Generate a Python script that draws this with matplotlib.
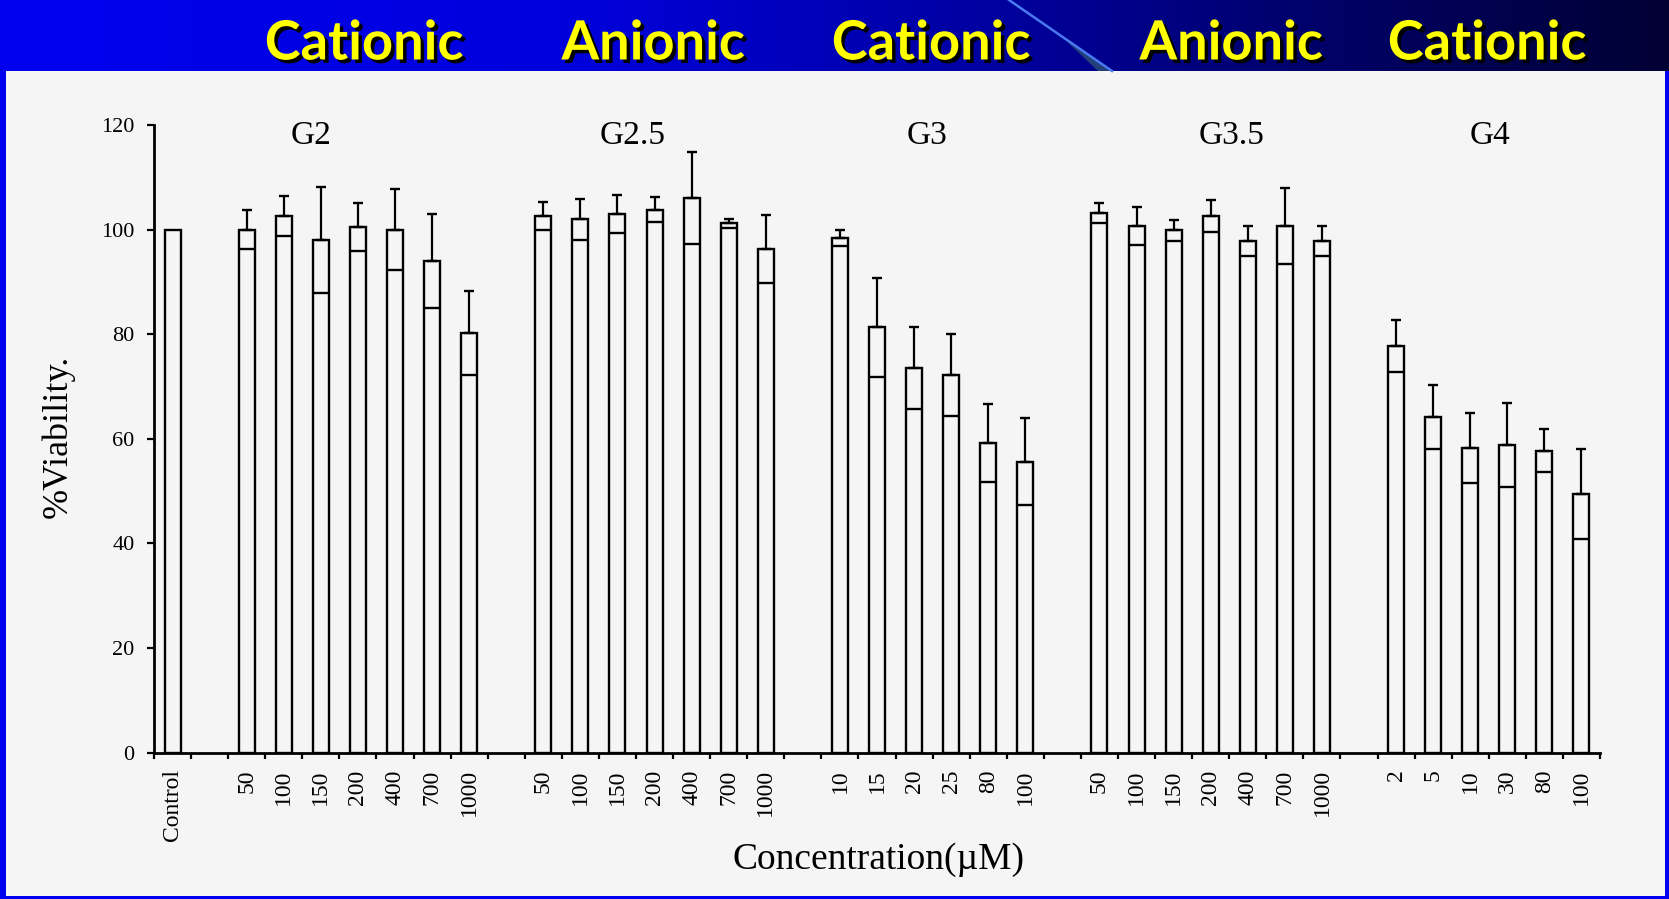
import numpy as np
import matplotlib.pyplot as plt
import matplotlib.patheffects as pe
from matplotlib.patches import Rectangle, Polygon

# cell viability (% of control): mean and SD for each dendrimer generation
control_mean = 100.0

g2_conc = ['50', '100', '150', '200', '400', '700', '1000']
g2_mean = [100.0, 102.6, 98.0, 100.5, 100.0, 94.0, 80.2]
g2_err = [3.8, 3.8, 10.2, 4.5, 7.8, 9.0, 8.0]

g25_conc = ['50', '100', '150', '200', '400', '700', '1000']
g25_mean = [102.6, 102.0, 103.0, 103.8, 106.0, 101.2, 96.2]
g25_err = [2.7, 3.9, 3.7, 2.4, 8.8, 0.8, 6.5]

g3_conc = ['10', '15', '20', '25', '80', '100']
g3_mean = [98.4, 81.3, 73.5, 72.2, 59.2, 55.6]
g3_err = [1.6, 9.4, 7.8, 7.9, 7.4, 8.3]

g35_conc = ['50', '100', '150', '200', '400', '700', '1000']
g35_mean = [103.2, 100.7, 99.9, 102.6, 97.8, 100.7, 97.8]
g35_err = [1.9, 3.6, 2.0, 3.1, 2.9, 7.2, 2.9]

g4_conc = ['2', '5', '10', '30', '80', '100']
g4_mean = [77.8, 64.2, 58.3, 58.8, 57.7, 49.4]
g4_err = [5.0, 6.1, 6.7, 8.0, 4.1, 8.6]

group_names = ['G2', 'G2.5', 'G3', 'G3.5', 'G4']
charge_labels = ['Cationic', 'Anionic', 'Cationic', 'Anionic', 'Cationic']

groups = [
    (g2_conc, g2_mean, g2_err),
    (g25_conc, g25_mean, g25_err),
    (g3_conc, g3_mean, g3_err),
    (g35_conc, g35_mean, g35_err),
    (g4_conc, g4_mean, g4_err),
]

W, H = 1669, 899
PANEL = '#f5f5f5'
serif = 'Liberation Serif'

fig = plt.figure(figsize=(W / 100, H / 100), dpi=100)
fig.patch.set_facecolor('#0000f0')

# slide background: blue header with gradient, light panel below
bg = fig.add_axes([0, 0, 1, 1])
t = np.linspace(0, 1, 500)
blue = np.interp(t, [0, 0.35, 0.6, 0.8, 1.0], [0.94, 0.86, 0.62, 0.40, 0.20])
grad = np.zeros((1, len(t), 3))
grad[0, :, 2] = blue
bg.imshow(grad, extent=(0, W, 71, 0), aspect='auto', interpolation='bilinear')
bg.add_patch(Polygon([[1060, 35], [1112, 71], [1098, 71]], closed=True,
                     facecolor='#23407a', edgecolor='none'))
bg.plot([1009, 1112], [0, 71], color='#4a78f0', lw=1.8)
bg.add_patch(Rectangle((6, 71), W - 10, H - 74, facecolor=PANEL, edgecolor='none'))
bg.set_xlim(0, W)
bg.set_ylim(H, 0)
bg.axis('off')

header_x = [364, 653, 931, 1231, 1487]
for hx, lab in zip(header_x, charge_labels):
    bg.text(hx, 44, lab, ha='center', va='center', fontsize=39, fontweight='bold',
            color='#ffff00', family=['Lato', 'DejaVu Sans'],
            path_effects=[pe.withSimplePatchShadow(offset=(2.5, -2.5),
                                                   shadow_rgbFace='black', alpha=1.0)])

# bar chart
ax = fig.add_axes([154 / W, 1 - 752.7 / H, (1600 - 154) / W, (752.7 - 125) / H])
ax.set_facecolor('none')

xs = [0]
means = [control_mean]
errs = [None]
ticklabels = ['Control']
cursor = 1
for conc, mean, err in groups:
    cursor += 1
    for c, m, e in zip(conc, mean, err):
        xs.append(cursor)
        means.append(m)
        errs.append(e)
        ticklabels.append(c)
        cursor += 1
n_slots = cursor

bw = 0.43
ax.bar(xs, means, width=bw, facecolor=PANEL, edgecolor='black', linewidth=1.7, zorder=2)

ex = np.array([x for x, e in zip(xs, errs) if e is not None])
em = np.array([m for m, e in zip(means, errs) if e is not None])
ee = np.array([e for e in errs if e is not None])
ax.errorbar(ex, em, yerr=[np.zeros_like(ee), ee], fmt='none', ecolor='black',
            elinewidth=1.6, capsize=3.8, capthick=1.7, zorder=3)
ax.hlines(em - ee, ex - bw / 2, ex + bw / 2, color='black', lw=1.7, zorder=3)

ax.set_xlim(-0.5, n_slots - 0.5)
ax.set_ylim(0, 120)

for side in ['top', 'right']:
    ax.spines[side].set_visible(False)
for side in ['left', 'bottom']:
    ax.spines[side].set_linewidth(2.0)
    ax.spines[side].set_color('black')

ax.set_yticks(np.arange(0, 121, 20))
ax.tick_params(axis='y', direction='out', length=5, width=1.6, pad=9, labelsize=16)
for lab in ax.get_yticklabels():
    lab.set_family(serif)

ax.set_xticks(np.arange(-0.5, n_slots, 1.0))
ax.set_xticklabels([])
ax.set_xticks(xs, minor=True)
ax.set_xticklabels(ticklabels, minor=True, rotation=90, family=serif, fontsize=17)
ax.tick_params(axis='x', which='major', direction='out', length=4.5, width=1.6)
ax.tick_params(axis='x', which='minor', length=0, pad=12)

# generation labels above each group
group_label_x = [3.73, 12.42, 20.35, 28.55, 35.53]
for gx, name in zip(group_label_x, group_names):
    ax.text(gx, 118, name, ha='center', va='center', family=serif, fontsize=24)

fig.text(58 / W, 1 - 436 / H, '%Viability.', rotation=90, ha='center', va='center',
         family=serif, fontsize=26)
fig.text(878 / W, 1 - 860 / H, 'Concentration(\u00b5M)', ha='center', va='center',
         family=serif, fontsize=27)

fig.savefig('out.png', dpi=100, facecolor=fig.get_facecolor())
